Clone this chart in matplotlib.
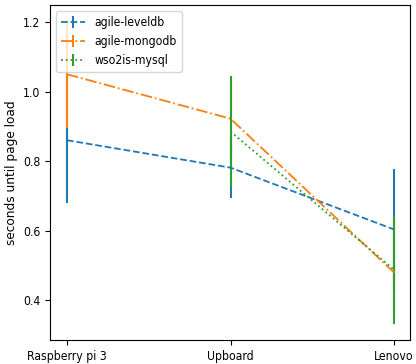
import matplotlib
matplotlib.use("Agg")
import matplotlib.pyplot as plt
import numpy as np

categories = ["Raspberry pi 3", "Upboard", "Lenovo"]
leveldb_mean = [0.86, 0.781, 0.603]
leveldb_err = [0.18, 0.086, 0.175]
mongodb_mean = [1.05, 0.922, 0.479]
mongodb_err = [0.155, 0.11, 0.12]
mysql_mean = [np.nan, 0.885, 0.487]
mysql_err = [np.nan, 0.16, 0.155]

plt.rcParams['font.stretch'] = 'condensed'

fig = plt.figure(figsize=(4.16, 3.64), dpi=100)
ax = fig.add_axes([0.120, 0.066, 0.866, 0.920])
x = np.arange(len(categories))
fs = 8.7
ax.errorbar(x, leveldb_mean, yerr=leveldb_err, linestyle="--", color="#1f77b4",
            label="agile-leveldb", linewidth=1.3, elinewidth=1.5)
ax.errorbar(x, mongodb_mean, yerr=mongodb_err, linestyle="-.", color="#ff7f0e",
            label="agile-mongodb", linewidth=1.3, elinewidth=1.5)
ax.errorbar(x, mysql_mean, yerr=mysql_err, linestyle=":", color="#2ca02c",
            label="wso2is-mysql", linewidth=1.3, elinewidth=1.5)
ax.set_xticks(x)
ax.set_xticklabels(categories, fontsize=fs)
ax.set_ylim(0.285, 1.249)
ax.set_xlim(-0.104, 2.098)
ax.set_yticks([0.4, 0.6, 0.8, 1.0, 1.2])
ax.tick_params(axis="y", labelsize=fs)
ax.set_ylabel("seconds until page load", fontsize=8.7, fontstretch='normal')
ax.yaxis.set_label_coords(-0.089, 0.5)
ax.legend(loc="upper left", fontsize=fs)
fig.savefig("out.png", dpi=100)
